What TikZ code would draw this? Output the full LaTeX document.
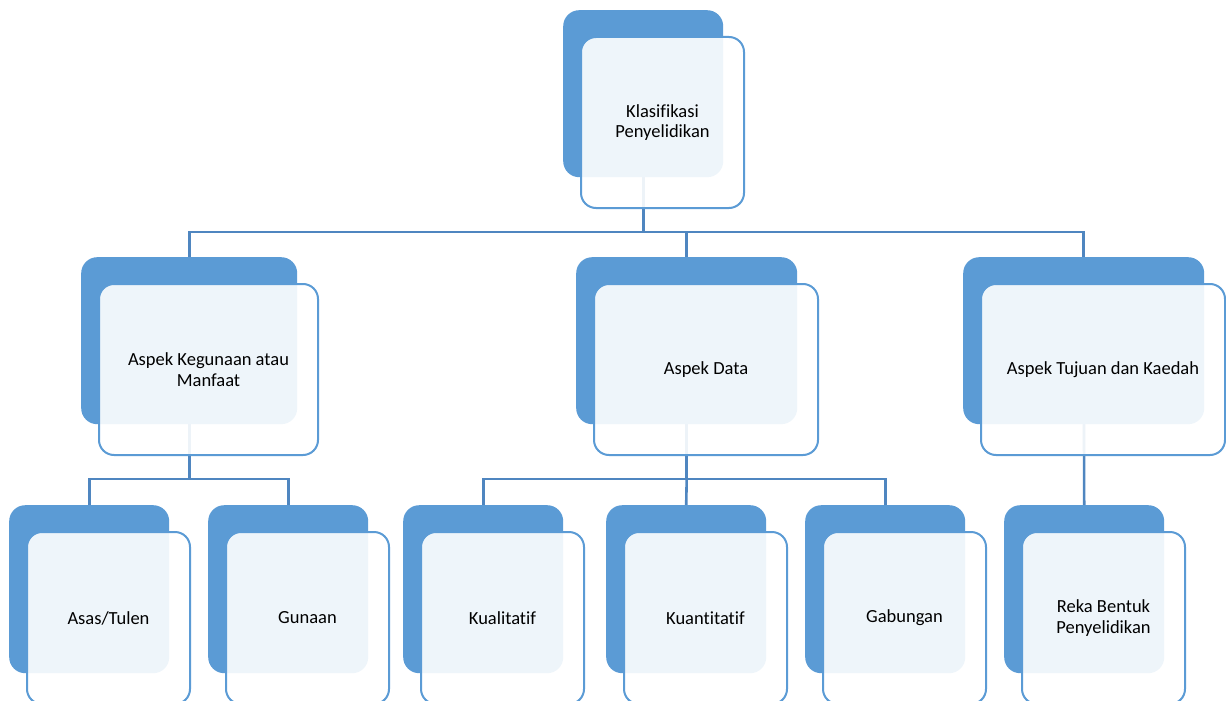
\documentclass[tikz,border=0pt]{standalone}
\usepackage{fontspec}
\setmainfont{Carlito}[Ligatures=CommonOff]
\usetikzlibrary{backgrounds}
\definecolor{bk}{HTML}{5B9BD5}
\definecolor{ln}{HTML}{4F86C0}
\tikzset{
  x=1pt, y=-1pt,
  backbox/.style={fill=bk, draw=none, rounded corners=16pt, inner sep=0pt, anchor=north west},
  frontbox/.style={fill=white, fill opacity=0.9, text opacity=1, draw=bk, line width=2pt,
    rounded corners=15pt, inner sep=0pt, anchor=north west, align=center,
    font=\fontsize{18.5}{20.5}\selectfont},
  conn/.style={draw=ln, line width=2.6pt},
  lbl/.style={align=center, font=\fontsize{18.5}{20.5}\selectfont, text=black, inner sep=0pt}
}
% #1 name, #2 x, #3 y, #4 w, #5 h, #6 text
\newcommand\twobox[6]{%
  \node[backbox, minimum width=#4pt, minimum height=#5pt] (#1B) at (#2,#3) {};
  \node[frontbox, minimum width=#4pt+3pt, minimum height=#5pt+4pt] (#1F) at (#2+17,#3+26) {};
  \node[lbl] (#1T) at (#1F.center) {#6};
}
\begin{document}
\begin{tikzpicture}
\useasboundingbox (0,0) rectangle (1226,701);
\twobox{t}{563}{10}{160}{167}{Klasifikasi\\Penyelidikan}
\twobox{a}{81}{257}{216}{167}{Aspek Kegunaan atau\\Manfaat}
\twobox{b}{576}{257}{221}{167}{Aspek Data}
\twobox{c}{963}{257}{241}{167}{Aspek Tujuan dan Kaedah}
\twobox{aa}{9}{505}{160}{168}{Asas/Tulen}
\twobox{ab}{208}{505}{160}{168}{Gunaan}
\twobox{ba}{403}{505}{160}{168}{Kualitatif}
\twobox{bb}{606}{505}{160}{168}{Kuantitatif}
\twobox{bc}{805}{505}{160}{168}{Gabungan}
\twobox{ca}{1004}{505}{160}{168}{Reka Bentuk\\Penyelidikan}
\coordinate (j1) at (0,232);
\coordinate (j2) at (0,479);
\begin{pgfonlayer}{background}
  \draw[conn] (tB.center) -- (tB.center |- j1) -| (aB.north);
  \draw[conn] (tB.center |- j1) -| (bB.north);
  \draw[conn] (tB.center |- j1) -| (cB.north);
  \draw[conn] (aB.center) -- (aB.center |- j2) -| (aaB.north);
  \draw[conn] (aB.center |- j2) -| (abB.north);
  \draw[conn] (bB.center) -- (bB.center |- j2) -| (baB.north);
  \draw[conn] (bB.center |- j2) -| (bcB.north);
  \draw[conn] (bB.center |- j2) -- (bbB.north);
  \draw[conn] (cB.center) -- (caB.north);
\end{pgfonlayer}
\end{tikzpicture}
\end{document}
